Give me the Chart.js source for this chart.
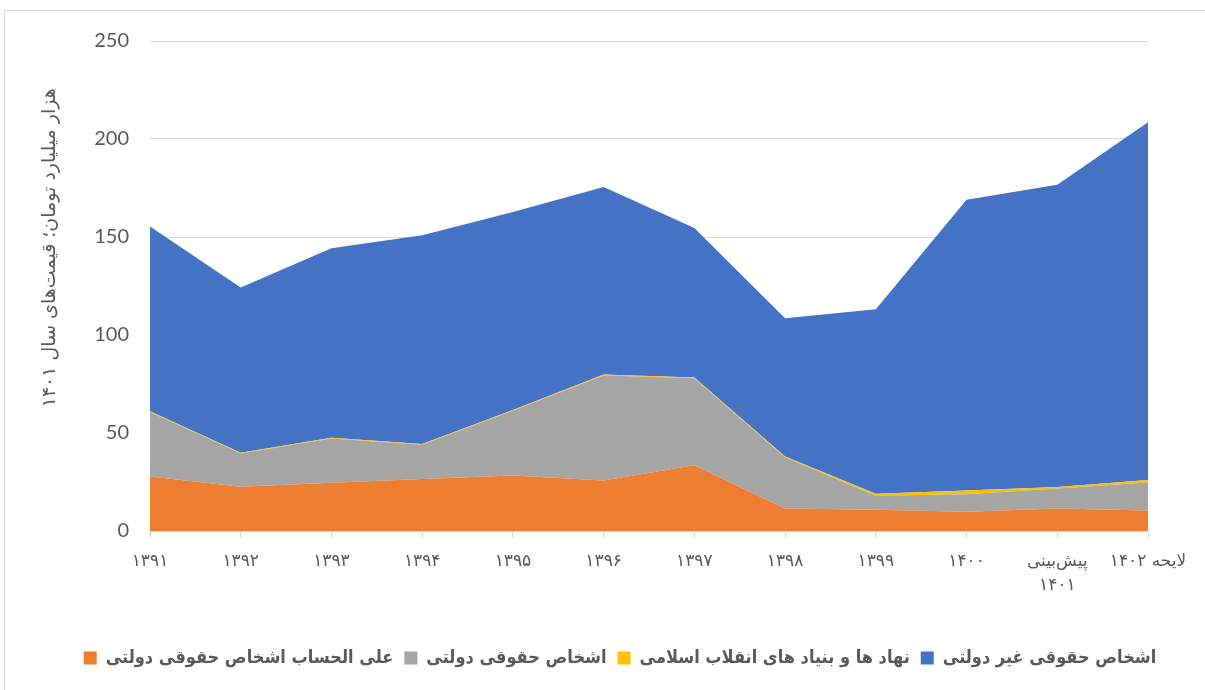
<!DOCTYPE html>
<html>
<head>
<meta charset="utf-8">
<script src="https://cdn.jsdelivr.net/npm/chart.js@4/dist/chart.umd.min.js"></script>
<style>
  html, body { margin: 0; padding: 0; background: #ffffff; overflow: hidden; }
  #wrap { position: absolute; left: 0; top: 0; width: 1205px; height: 690px; }
  #frame { position: absolute; left: 4px; top: 10px; width: 1300px; height: 800px; border: 1px solid #d9d9d9; box-sizing: border-box; }
  canvas { position: absolute; left: 0; top: 0; }
</style>
</head>
<body>
<div id="wrap">
  <div id="frame"></div>
  <canvas id="c" width="1205" height="690"></canvas>
</div>
<script>
const categories = ['۱۳۹۱', '۱۳۹۲', '۱۳۹۳', '۱۳۹۴', '۱۳۹۵', '۱۳۹۶', '۱۳۹۷', '۱۳۹۸', '۱۳۹۹', '۱۴۰۰', ['پیش‌بینی', '۱۴۰۱'], 'لایحه ۱۴۰۲'];

const seriesNames = [
  'علی الحساب اشخاص حقوقی دولتی',
  'اشخاص حقوقی دولتی',
  'نهاد ها و بنیاد های انقلاب اسلامی',
  'اشخاص حقوقی غیر دولتی'
];

const advanceGovLegal = [27.8, 22.6, 24.6, 26.5, 28.3, 25.8, 33.6, 11.5, 10.9, 9.8, 11.5, 10.4];
const govLegal        = [32.9, 16.9, 22.6, 17.5, 33.0, 53.6, 44.3, 26.0, 7.1, 9.0, 10.2, 14.4];
const revolutionOrgs  = [0.4, 0.4, 0.4, 0.4, 0.4, 0.4, 0.4, 0.5, 1.0, 1.8, 0.8, 1.2];
const nonGovLegal     = [94.2, 84.3, 96.6, 106.5, 101.1, 95.7, 76.3, 70.6, 94.2, 148.4, 154.2, 182.6];

const yTicks = [0, 50, 100, 150, 200, 250];
const yTitle = 'هزار میلیارد تومان؛ قیمت‌های سال ۱۴۰۱';

const colors = ['#ED7D31', '#A5A5A5', '#FFC000', '#4472C4'];
const seriesData = [advanceGovLegal, govLegal, revolutionOrgs, nonGovLegal];

const datasets = seriesData.map((d, i) => ({
  label: seriesNames[i],
  data: d,
  backgroundColor: colors[i],
  borderColor: colors[i],
  borderWidth: 0,
  pointRadius: 0,
  pointHoverRadius: 0,
  tension: 0,
  fill: i === 0 ? 'origin' : '-1'
}));

const yTitlePlugin = {
  id: 'yTitle',
  afterLayout(chart) {
    const lg = chart.legend;
    if (lg) { lg.left += 46; lg.right += 46; }
  },
  afterDraw(chart) {
    const ctx = chart.ctx;
    const a = chart.chartArea;
    ctx.save();
    ctx.translate(50, a.top + (a.bottom - a.top) * 0.422);
    ctx.rotate(-Math.PI / 2);
    ctx.font = '19px "DejaVu Sans", "Noto Sans", sans-serif';
    ctx.fillStyle = '#595959';
    ctx.textAlign = 'center';
    ctx.textBaseline = 'middle';
    ctx.direction = 'rtl';
    ctx.fillText(yTitle, 0, 0);
    ctx.restore();
  }
};

new Chart(document.getElementById('c'), {
  type: 'line',
  data: { labels: categories, datasets },
  plugins: [yTitlePlugin],
  options: {
    responsive: false,
    animation: false,
    layout: { padding: { left: 0, top: 41, right: 57, bottom: 13 } },
    plugins: {
      tooltip: { enabled: false },
      title: { display: false },
      legend: {
        position: 'bottom',
        align: 'center',
        labels: {
          boxWidth: 13,
          boxHeight: 13,
          padding: 11,
          color: '#595959',
          font: { family: '"DejaVu Sans Condensed", "DejaVu Sans", sans-serif', size: 18, weight: 'bold' }
        }
      }
    },
    scales: {
      x: {
        offset: false,
        grid: { display: true, drawOnChartArea: false, drawTicks: true, tickLength: 7, color: '#d9d9d9' },
        border: { display: true, color: '#d9d9d9' },
        ticks: {
          color: '#595959',
          padding: 11,
          maxRotation: 0,
          autoSkip: false,
          font: { family: '"DejaVu Sans", sans-serif', size: 17, lineHeight: 1.45 }
        },
        afterFit(scale) { scale.height = 107; }
      },
      y: {
        stacked: true,
        min: 0,
        max: 250,
        afterBuildTicks(scale) { scale.ticks = yTicks.map(v => ({ value: v })); },
        grid: { color: '#d9d9d9', lineWidth: 1, drawTicks: false },
        border: { display: false },
        ticks: {
          color: '#595959',
          padding: 21,
          font: { family: 'Lato, sans-serif', size: 20 }
        },
        afterFit(scale) { scale.width = 150; }
      }
    }
  }
});
</script>
</body>
</html>
